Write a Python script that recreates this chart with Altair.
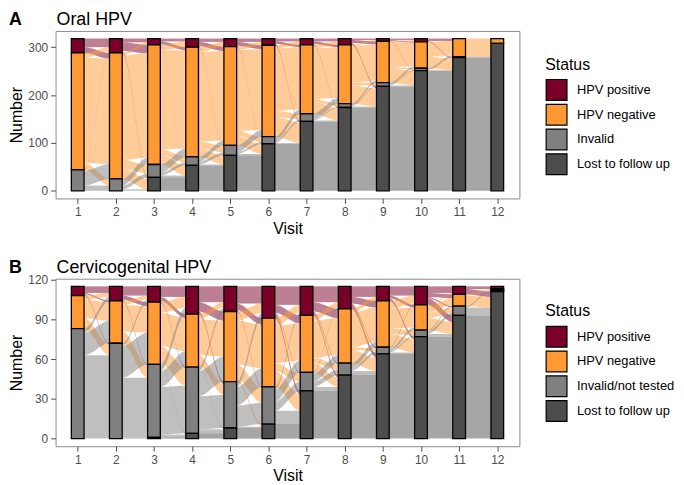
import altair as alt
import pandas as pd
import numpy as np

VISITS = list(range(1, 13))
STATUS_ORAL = ["HPV positive", "HPV negative", "Invalid", "Lost to follow up"]
STATUS_CERV = ["HPV positive", "HPV negative", "Invalid/not tested", "Lost to follow up"]
FILLS = ["#7B0029", "#FF9933", "#808080", "#4D4D4D"]

# transitions visit v -> v+1 ; rows = from (pos, neg, inv, lost), cols = to (pos, neg, inv, lost)
ORAL_TRANSITIONS = [
    [[18, 12, 0, 0], [10, 220, 14, 0], [2, 31, 11, 0], [0, 0, 0, 0]],
    [[8, 18, 1, 3], [5, 218, 18, 22], [0, 14, 8, 3], [0, 0, 0, 0]],
    [[6, 6, 0, 1], [12, 206, 12, 20], [0, 17, 6, 4], [0, 0, 0, 28]],
    [[7, 9, 1, 1], [10, 187, 14, 18], [0, 10, 6, 2], [0, 0, 0, 53]],
    [[7, 8, 1, 1], [7, 169, 10, 20], [0, 14, 4, 3], [0, 0, 0, 74]],
    [[6, 5, 0, 3], [7, 130, 12, 42], [0, 9, 4, 2], [0, 0, 0, 98]],
    [[6, 5, 0, 2], [7, 106, 6, 25], [0, 12, 2, 2], [0, 0, 0, 145]],
    [[3, 6, 0, 4], [3, 76, 6, 38], [0, 4, 2, 2], [0, 0, 0, 174]],
    [[3, 2, 0, 1], [4, 49, 3, 30], [0, 4, 2, 2], [0, 0, 0, 218]],
    [[0, 5, 0, 2], [0, 30, 1, 24], [0, 3, 1, 1], [0, 0, 0, 251]],
    [[0, 0, 0, 0], [0, 10, 0, 28], [0, 0, 0, 2], [0, 0, 0, 278]],
]

CERV_TRANSITIONS = [
    [[5, 1, 1, 0], [3, 14, 8, 0], [3, 17, 63, 0], [0, 0, 0, 0]],
    [[7, 3, 1, 0], [3, 20, 9, 0], [2, 24, 45, 1], [0, 0, 0, 0]],
    [[8, 3, 1, 0], [8, 25, 13, 1], [5, 12, 36, 2], [0, 0, 0, 1]],
    [[12, 7, 2, 0], [4, 27, 8, 1], [3, 19, 25, 3], [0, 0, 0, 4]],
    [[13, 5, 1, 0], [7, 33, 11, 2], [4, 14, 16, 1], [0, 0, 0, 8]],
    [[14, 6, 1, 3], [6, 28, 6, 12], [2, 9, 7, 10], [0, 0, 0, 11]],
    [[12, 7, 1, 2], [4, 28, 4, 7], [1, 6, 4, 3], [0, 0, 0, 36]],
    [[8, 5, 1, 3], [3, 26, 2, 10], [0, 4, 2, 3], [0, 0, 0, 48]],
    [[7, 2, 0, 2], [6, 15, 4, 10], [1, 2, 1, 1], [0, 0, 0, 64]],
    [[5, 3, 1, 5], [1, 5, 4, 9], [0, 1, 2, 2], [0, 0, 0, 77]],
    [[2, 0, 0, 4], [0, 1, 0, 8], [0, 0, 1, 6], [0, 0, 0, 93]],
]

BAR_W = 1 / 3
N_PTS = 32


def build(trans, statuses):
    nvis = len(trans) + 1
    counts = [[sum(row) for row in m] for m in trans]
    counts.append([sum(trans[-1][i][j] for i in range(4)) for j in range(4)])
    bottoms = []
    for v in range(nvis):
        b = {}
        base = 0
        for k in [3, 2, 1, 0]:
            b[k] = base
            base += counts[v][k]
        bottoms.append(b)
    bars = []
    for v in range(nvis):
        for k in range(4):
            c = counts[v][k]
            if c <= 0:
                continue
            bars.append(dict(xl=VISITS[v] - BAR_W / 2, xr=VISITS[v] + BAR_W / 2,
                             y0=bottoms[v][k], y1=bottoms[v][k] + c,
                             status=statuses[k]))
    flows = []
    fid = 0
    t = np.linspace(0, 1, N_PTS)
    s = t * t * (3 - 2 * t)
    for v, m in enumerate(trans):
        x0 = VISITS[v] + BAR_W / 2
        x1 = VISITS[v + 1] - BAR_W / 2
        for i in range(4):
            for j in range(4):
                c = m[i][j]
                if c <= 0:
                    continue
                yl = bottoms[v][i] + sum(m[i][jj] for jj in range(j + 1, 4))
                yr = bottoms[v + 1][j] + sum(m[ii][j] for ii in range(i + 1, 4))
                for tt, ss in zip(t, s):
                    lo = yl + (yr - yl) * ss
                    flows.append(dict(fid=fid, x=x0 + (x1 - x0) * tt, lo=lo, hi=lo + c,
                                      col=FILLS[i]))
                fid += 1
    return pd.DataFrame(bars), pd.DataFrame(flows), sum(counts[0])


def panel(trans, statuses, letter, title, yticks, leg_y):
    bars, flows, total = build(trans, statuses)
    pad = total * 0.05
    xs = alt.Scale(domain=[0.42, 12.58], nice=False, zero=False)
    ys = alt.Scale(domain=[-pad, total + pad], nice=False, zero=False)
    fl = alt.Chart(flows).mark_area(opacity=0.5, interpolate="linear").encode(
        x=alt.X("x:Q", scale=xs,
                axis=alt.Axis(values=VISITS, title="Visit", format="d")),
        y=alt.Y("lo:Q", scale=ys,
                axis=alt.Axis(values=yticks, title="Number")),
        y2="hi:Q",
        color=alt.Color("col:N", scale=None),
        detail="fid:N",
    )
    br = alt.Chart(bars).mark_rect(stroke="black", strokeWidth=1.3).encode(
        x=alt.X("xl:Q", scale=xs),
        x2="xr:Q",
        y=alt.Y("y0:Q", scale=ys),
        y2="y1:Q",
        fill=alt.Fill("status:N",
                      scale=alt.Scale(domain=statuses, range=FILLS),
                      sort=statuses,
                      legend=alt.Legend(title="Status", orient="none",
                                        legendX=494, legendY=leg_y)),
    )
    lab = alt.Chart(pd.DataFrame({"t": [letter]})).mark_text(
        fontWeight="bold", fontSize=18, align="left", baseline="alphabetic",
        color="black").encode(text="t:N", x=alt.value(-47), y=alt.value(-6))
    ttl = alt.Chart(pd.DataFrame({"t": [title]})).mark_text(
        fontSize=18, align="left", baseline="alphabetic",
        color="black").encode(text="t:N", x=alt.value(1), y=alt.value(-6))
    return alt.layer(fl, br, lab, ttl).properties(width=468, height=169)


pa = panel(ORAL_TRANSITIONS, STATUS_ORAL, "A", "Oral HPV", [0, 100, 200, 300], 26)
pb = panel(CERV_TRANSITIONS, STATUS_CERV, "B", "Cervicogenital HPV", [0, 30, 60, 90, 120], 25)

chart = alt.vconcat(pa, pb, spacing=21).resolve_scale(
    fill="independent", x="independent", y="independent"
).resolve_legend(fill="independent").properties(padding=0).configure(
    font="Liberation Sans"
).configure_view(
    stroke="#8C8C8C", strokeWidth=1
).configure_axis(
    grid=False, domain=False, tickColor="#4D4D4D", tickSize=5,
    labelColor="#4D4D4D", labelFontSize=12, titleFontSize=16,
    titleFontWeight="normal", titleColor="black", labelPadding=3,
    titlePadding=3,
).configure_legend(
    symbolType="square", symbolSize=441, symbolStrokeColor="black",
    symbolStrokeWidth=1.2, symbolOpacity=1, labelFontSize=13,
    titleFontSize=16, titleFontWeight="normal", titleColor="black",
    labelColor="black", rowPadding=-10, titlePadding=6, labelOffset=9,
)

chart.save("out.html", embed_options={"renderer": "svg", "actions": False})
